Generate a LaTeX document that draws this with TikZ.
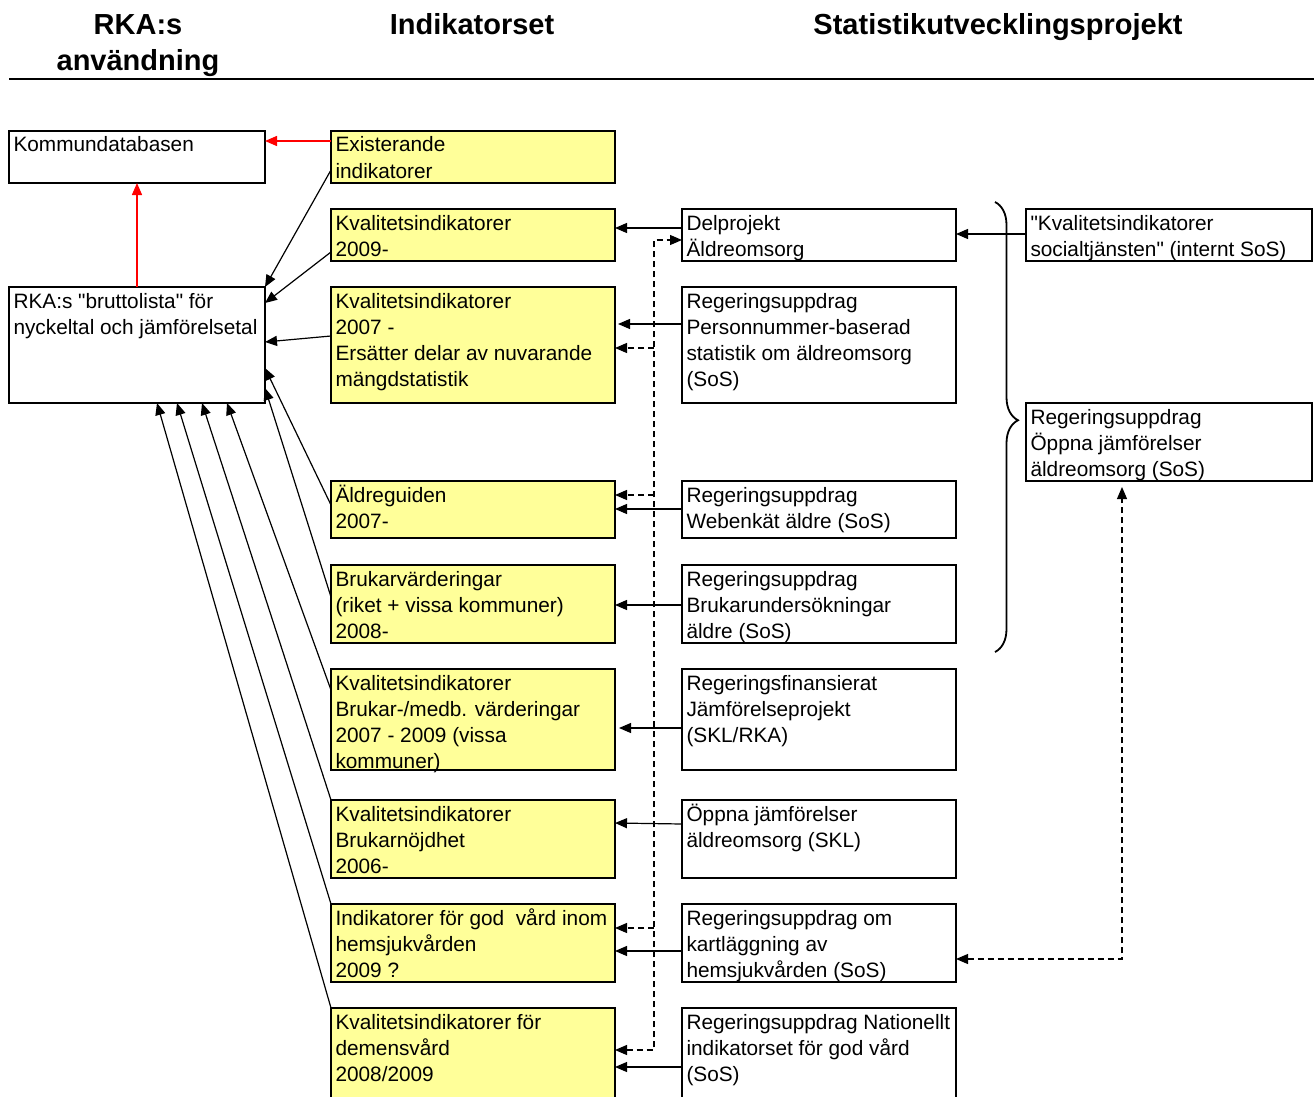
\documentclass[tikz,border=0pt]{standalone}
\usepackage{fontspec}
\newfontfamily\arialfont{Liberation Sans}
\usetikzlibrary{arrows.meta,calc,decorations.pathreplacing}
\definecolor{boxyellow}{HTML}{FFFF99}
\tikzset{
  boxst/.style={draw,line width=2pt,anchor=north west,inner sep=0pt,outer sep=0pt},
  txt/.style={anchor=north west,inner sep=0pt,outer sep=0pt,align=left,
    font=\arialfont\fontsize{20.8}{26}\selectfont},
  hdr/.style={anchor=base,inner sep=0pt,font=\arialfont\bfseries\fontsize{29}{34}\selectfont},
  tip/.tip={Triangle[length=12pt,width=10pt]},
  arr/.style={-tip,line width=1.2pt},
  redarr/.style={-tip,line width=1.4pt,draw=red,color=red},
  dsh/.style={line width=1.2pt,dash pattern=on 6pt off 4pt},
  dsharr/.style={dsh,-tip},
  dshboth/.style={dsh,tip-tip}
}
\newcommand\mkbox[7]{%
  \node[boxst,fill=#6,minimum width=#4pt,minimum height=#5pt] (#1) at (#2,#3) {};
  \node[txt] (#1-t) at ($(#1.north west)+(4.5,2.8)$) {\strut #7};
}
\begin{document}
\begin{tikzpicture}[x=1pt,y=-1pt]
\useasboundingbox (0,0) rectangle (1314,1097);
% headers
\node[hdr] (h1) at (138,35) {RKA:s};
\node[hdr] (h1b) at (138,71) {användning};
\node[hdr] (h2) at (472,35) {Indikatorset};
\node[hdr] (h3) at (998,35) {Statistikutvecklingsprojekt};
\draw[line width=2pt] (9,79) coordinate (hl1) -- (1314,79) coordinate (hl2);
% left column
\mkbox{kdb}{9}{131}{256}{52}{white}{Kommundatabasen}
\mkbox{rka}{9}{287}{256}{116}{white}{RKA:s "bruttolista" för\\nyckeltal och jämförelsetal}
% yellow column
\mkbox{y1}{331}{131}{284}{52}{boxyellow}{Existerande\\indikatorer}
\mkbox{y2}{331}{209}{284}{52}{boxyellow}{Kvalitetsindikatorer\\2009-}
\mkbox{y3}{331}{287}{284}{116}{boxyellow}{Kvalitetsindikatorer\\2007 -\\Ersätter delar av nuvarande\\mängdstatistik}
\mkbox{y4}{331}{481}{284}{57}{boxyellow}{Äldreguiden\\2007-}
\mkbox{y5}{331}{565}{284}{78}{boxyellow}{Brukarvärderingar\\(riket + vissa kommuner)\\2008-}
\mkbox{y6}{331}{669}{284}{101}{boxyellow}{Kvalitetsindikatorer\\Brukar-/medb. värderingar\\2007 - 2009 (vissa\\kommuner)}
\mkbox{y7}{331}{800}{284}{78}{boxyellow}{Kvalitetsindikatorer\\Brukarnöjdhet\\2006-}
\mkbox{y8}{331}{904}{284}{78}{boxyellow}{Indikatorer för god~ vård inom\\hemsjukvården\\2009 ?}
\mkbox{y9}{331}{1008}{284}{95}{boxyellow}{Kvalitetsindikatorer för\\demensvård\\2008/2009}
% middle column
\mkbox{m1}{682}{209}{274}{52}{white}{Delprojekt\\Äldreomsorg}
\mkbox{m2}{682}{287}{274}{116}{white}{Regeringsuppdrag\\Personnummer-baserad\\statistik om äldreomsorg\\(SoS)}
\mkbox{m3}{682}{481}{274}{57}{white}{Regeringsuppdrag\\Webenkät äldre (SoS)}
\mkbox{m4}{682}{565}{274}{78}{white}{Regeringsuppdrag\\Brukarundersökningar\\äldre (SoS)}
\mkbox{m5}{682}{669}{274}{101}{white}{Regeringsfinansierat\\Jämförelseprojekt\\(SKL/RKA)}
\mkbox{m6}{682}{800}{274}{78}{white}{Öppna jämförelser\\äldreomsorg (SKL)}
\mkbox{m7}{682}{904}{274}{78}{white}{Regeringsuppdrag om\\kartläggning av\\hemsjukvården (SoS)}
\mkbox{m8}{682}{1008}{274}{95}{white}{Regeringsuppdrag Nationellt\\indikatorset för god vård\\(SoS)}
% right column
\mkbox{r1}{1026}{209}{286}{52}{white}{"Kvalitetsindikatorer\\socialtjänsten" (internt SoS)}
\mkbox{r2}{1026}{403}{286}{78}{white}{Regeringsuppdrag\\Öppna jämförelser\\äldreomsorg (SoS)}
% brace
\draw[line width=1.8pt,decorate,decoration={brace,amplitude=23pt,aspect=0.485}]
  (995,202) coordinate (br1) -- (995,652) coordinate (br2);
% red arrows
\draw[redarr] ($(y1.north west)+(0,10)$) -- ($(kdb.north east)+(0,10)$);
\draw[redarr] (rka.north) -- (kdb.south);
% arrows into RKA
\draw[arr] ($(y1.north west)+(0,39)$) -- (rka.north east);
\draw[arr] ($(y2.north west)+(0,43)$) -- ($(rka.north east)+(0,16)$);
\draw[arr] ($(y3.north west)+(0,49)$) -- ($(rka.north east)+(0,55)$);
\draw[arr] ($(y4.north west)+(0,24)$) -- ($(rka.north east)+(0,81)$);
\draw[arr] ($(y5.north west)+(0,32)$) -- ($(rka.north east)+(0,101)$);
\draw[arr] ($(y6.north west)+(0,21)$) -- ($(rka.south west)+(218,0)$);
\draw[arr] (y7.north west) -- ($(rka.south west)+(193,0)$);
\draw[arr] (y8.north west) -- ($(rka.south west)+(168,0)$);
\draw[arr] (y9.north west) -- ($(rka.south west)+(148,0)$);
% middle -> yellow
\draw[arr] ($(m1.north west)+(0,19)$) -- ($(y2.north east)+(0,19)$);
\draw[arr] ($(m2.north west)+(0,37)$) -- ($(y3.north east)+(3,37)$);
\draw[arr] ($(m3.north west)+(0,28)$) -- ($(y4.north east)+(0,28)$);
\draw[arr] ($(m4.north west)+(0,40)$) -- ($(y5.north east)+(0,40)$);
\draw[arr] ($(m5.north west)+(0,59)$) -- ($(y6.north east)+(4,59)$);
\draw[arr] ($(m6.north west)+(0,24)$) -- ($(y7.north east)+(0,23)$);
\draw[arr] ($(m7.north west)+(0,47)$) -- ($(y8.north east)+(0,47)$);
\draw[arr] ($(m8.north west)+(0,59)$) -- ($(y9.north east)+(0,59)$);
\draw[arr] ($(r1.north west)+(0,25)$) -- ($(m1.north east)+(0,25)$);
% dashed bus
\coordinate (busTop) at (654,240);
\coordinate (busBot) at (654,1050);
\coordinate (b1) at (654,348);
\coordinate (b2) at (654,495);
\coordinate (b3) at (654,928);
\draw[dshboth] (busBot -| y9.east) -- (busBot) -- (busTop) -- (busTop -| m1.west);
\draw[dsharr] (b1) -- (b1 -| y3.east);
\draw[dsharr] (b2) -- (b2 -| y4.east);
\draw[dsharr] (b3) -- (b3 -| y8.east);
% right dashed
\draw[dshboth] ($(m7.north east)+(0,55)$) -| ($(r2.south west)+(96,6)$);
\end{tikzpicture}
\end{document}
